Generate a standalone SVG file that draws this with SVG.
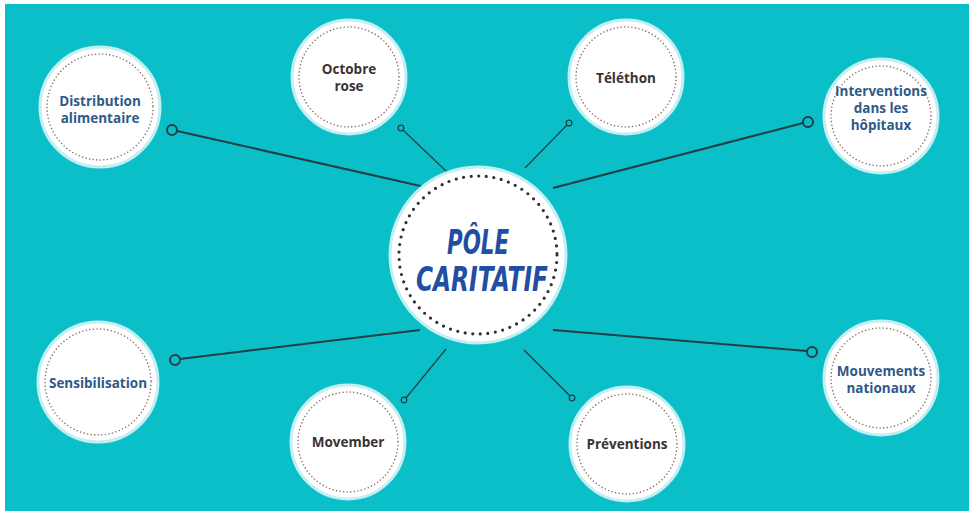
<svg xmlns="http://www.w3.org/2000/svg" width="969" height="513" viewBox="0 0 969 513">
<style>
.bg{fill:#0bbfc8}
.node{fill:#ffffff;stroke:#c4eff2;stroke-width:3}
.ring{fill:none;stroke:#8c6e66;stroke-width:1.6;stroke-dasharray:0 3.6;stroke-linecap:round}
.cring{fill:none;stroke:#2f2f36;stroke-width:3.2;stroke-dasharray:0 7.6;stroke-linecap:round}
.t{font-family:"Open Sans",Lato,sans-serif;font-weight:700;font-size:13.5px;text-anchor:middle}
.blue{fill:#2d5a88}
.brown{fill:#3b3231}
.ctext{font-family:"DejaVu Sans",sans-serif;font-weight:700;font-style:italic;font-size:33px;fill:#1f4ea3;text-anchor:middle}
.line{stroke:#1f3f48;fill:none}
.thick{stroke-width:2}
.thin{stroke-width:1.2}
.end{fill:none;stroke:#1f3f48;stroke-width:2}
.endsm{fill:none;stroke:#1f3f48;stroke-width:1.2}
</style>
<rect x="0" y="0" width="969" height="513" fill="#ffffff"/>
<rect class="bg" x="5" y="4" width="964" height="507"/>
<g id="connectors">
<line class="line thick" x1="177" y1="131" x2="425" y2="187"/>
<circle class="end" cx="172" cy="130" r="5"/>
<line class="line thin" x1="403" y1="130" x2="447" y2="172"/>
<circle class="endsm" cx="401" cy="128" r="2.8"/>
<line class="line thin" x1="567" y1="125" x2="525" y2="168"/>
<circle class="endsm" cx="569" cy="123" r="2.8"/>
<line class="line thick" x1="803" y1="123" x2="553" y2="188"/>
<circle class="end" cx="808" cy="122" r="5"/>
<line class="line thick" x1="180" y1="359" x2="420" y2="330"/>
<circle class="end" cx="175" cy="360" r="5"/>
<line class="line thin" x1="406" y1="398" x2="446" y2="349"/>
<circle class="endsm" cx="404" cy="400" r="2.8"/>
<line class="line thin" x1="570" y1="396" x2="524" y2="350"/>
<circle class="endsm" cx="572" cy="398" r="2.8"/>
<line class="line thick" x1="807" y1="351" x2="553" y2="330"/>
<circle class="end" cx="812" cy="352" r="5"/>
</g>
<g id="center">
<circle class="node" cx="478" cy="255" r="88"/>
<circle class="cring" cx="478" cy="255" r="79"/>
<text class="ctext" x="478" y="254" textLength="62" lengthAdjust="spacingAndGlyphs">PÔLE</text>
<text class="ctext" x="482" y="291" textLength="132" lengthAdjust="spacingAndGlyphs">CARITATIF</text>
</g>
<g id="distribution">
<circle class="node" cx="100" cy="107" r="60"/>
<circle class="ring" cx="100" cy="107" r="53"/>
<text class="t blue" x="100" y="106">Distribution</text>
<text class="t blue" x="100" y="123">alimentaire</text>
</g>
<g id="octobre">
<circle class="node" cx="349" cy="77" r="57"/>
<circle class="ring" cx="349" cy="77" r="50"/>
<text class="t brown" x="349" y="74">Octobre</text>
<text class="t brown" x="349" y="91">rose</text>
</g>
<g id="telethon">
<circle class="node" cx="626" cy="77" r="57"/>
<circle class="ring" cx="626" cy="77" r="50"/>
<text class="t brown" x="626" y="83">Téléthon</text>
</g>
<g id="interventions">
<circle class="node" cx="881" cy="116" r="57"/>
<circle class="ring" cx="881" cy="116" r="50"/>
<text class="t blue" x="881" y="96">Interventions</text>
<text class="t blue" x="881" y="113">dans les</text>
<text class="t blue" x="881" y="130">hôpitaux</text>
</g>
<g id="sensibilisation">
<circle class="node" cx="98" cy="382" r="60"/>
<circle class="ring" cx="98" cy="382" r="53"/>
<text class="t blue" x="98" y="388">Sensibilisation</text>
</g>
<g id="movember">
<circle class="node" cx="348" cy="442" r="57"/>
<circle class="ring" cx="348" cy="442" r="50"/>
<text class="t brown" x="348" y="447">Movember</text>
</g>
<g id="preventions">
<circle class="node" cx="627" cy="444" r="57"/>
<circle class="ring" cx="627" cy="444" r="50"/>
<text class="t brown" x="627" y="449">Préventions</text>
</g>
<g id="mouvements">
<circle class="node" cx="881" cy="378" r="57"/>
<circle class="ring" cx="881" cy="378" r="50"/>
<text class="t blue" x="881" y="376">Mouvements</text>
<text class="t blue" x="881" y="393">nationaux</text>
</g>
</svg>
